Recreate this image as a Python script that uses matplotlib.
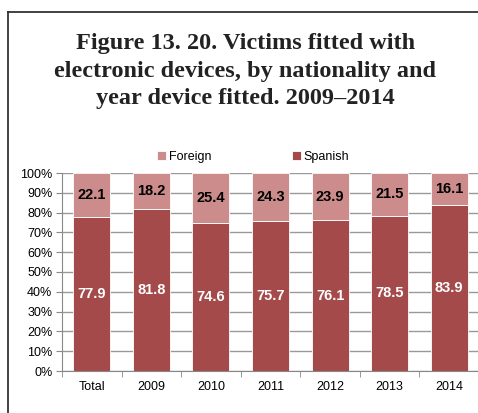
import matplotlib.pyplot as plt
import numpy as np
from matplotlib.lines import Line2D

categories = ['Total', '2009', '2010', '2011', '2012', '2013', '2014']
spanish = [77.9, 81.8, 74.6, 75.7, 76.1, 78.5, 83.9]
foreign = [22.1, 18.2, 25.4, 24.3, 23.9, 21.5, 16.1]

c_spanish = '#A54A4A'
c_foreign = '#CC8C8C'

plt.rcParams['font.family'] = ['Liberation Sans', 'DejaVu Sans']

fig = plt.figure(figsize=(4.78, 4.13), dpi=100)

# frame around the figure (left and top only)
fig.add_artist(Line2D([8/478, 8/478], [0, 1 - 12/413], color='#333333', lw=1.3))
fig.add_artist(Line2D([8/478, 1], [1 - 12/413, 1 - 12/413], color='#333333', lw=1.3))

fig.text(0.513, 1 - 71/413,
         'Figure 13. 20. Victims fitted with\nelectronic devices, by nationality and\nyear device fitted. 2009\u20132014',
         ha='center', va='center', fontsize=17.5, fontweight='bold',
         family='Liberation Serif', color='#222222', linespacing=1.38)

ax = fig.add_axes([62/478, 1 - 371/413, 417/478, 198/413])
x = np.arange(len(categories))
w = 0.62
ax.bar(x, spanish, w, color=c_spanish, edgecolor='white', linewidth=0.6, zorder=2, label='Spanish')
ax.bar(x, foreign, w, bottom=spanish, color=c_foreign, edgecolor='white', linewidth=0.6, zorder=2, label='Foreign')

for i in range(len(categories)):
    ax.text(x[i], spanish[i] / 2, f'{spanish[i]:.1f}', ha='center', va='center',
            color='white', fontsize=10.5, fontweight='bold', zorder=3)
    ax.text(x[i], spanish[i] + foreign[i] / 2, f'{foreign[i]:.1f}', ha='center', va='center',
            color='black', fontsize=10.5, fontweight='bold', zorder=3)

ax.set_xlim(-0.5, len(categories) - 0.5)
ax.set_ylim(0, 100)
ax.set_yticks(np.arange(0, 101, 10))
ax.set_yticklabels([f'{v}%' for v in range(0, 101, 10)], fontsize=9)
ax.set_xticks(x)
ax.set_xticklabels(categories, fontsize=9)
ax.set_xticks(np.arange(-0.5, len(categories), 1), minor=True)
ax.tick_params(axis='x', which='major', length=0, pad=7)
ax.tick_params(axis='x', which='minor', length=4, color='#888888')
ax.tick_params(axis='y', length=4, color='#888888', pad=3)
ax.yaxis.grid(True, color='#999999', linewidth=1.0, zorder=0)
ax.set_axisbelow(True)
for s in ['top', 'right']:
    ax.spines[s].set_visible(False)
ax.spines['left'].set_color('#888888')
ax.spines['bottom'].set_color('#888888')

handles, labels = ax.get_legend_handles_labels()
fig.legend(handles[::-1], labels[::-1], loc='center', bbox_to_anchor=(0.53, 1 - 157/413),
           ncol=2, frameon=False, fontsize=9, handlelength=0.7, handleheight=0.7,
           handletextpad=0.2, columnspacing=6.5)

fig.savefig('out.png', dpi=100)
